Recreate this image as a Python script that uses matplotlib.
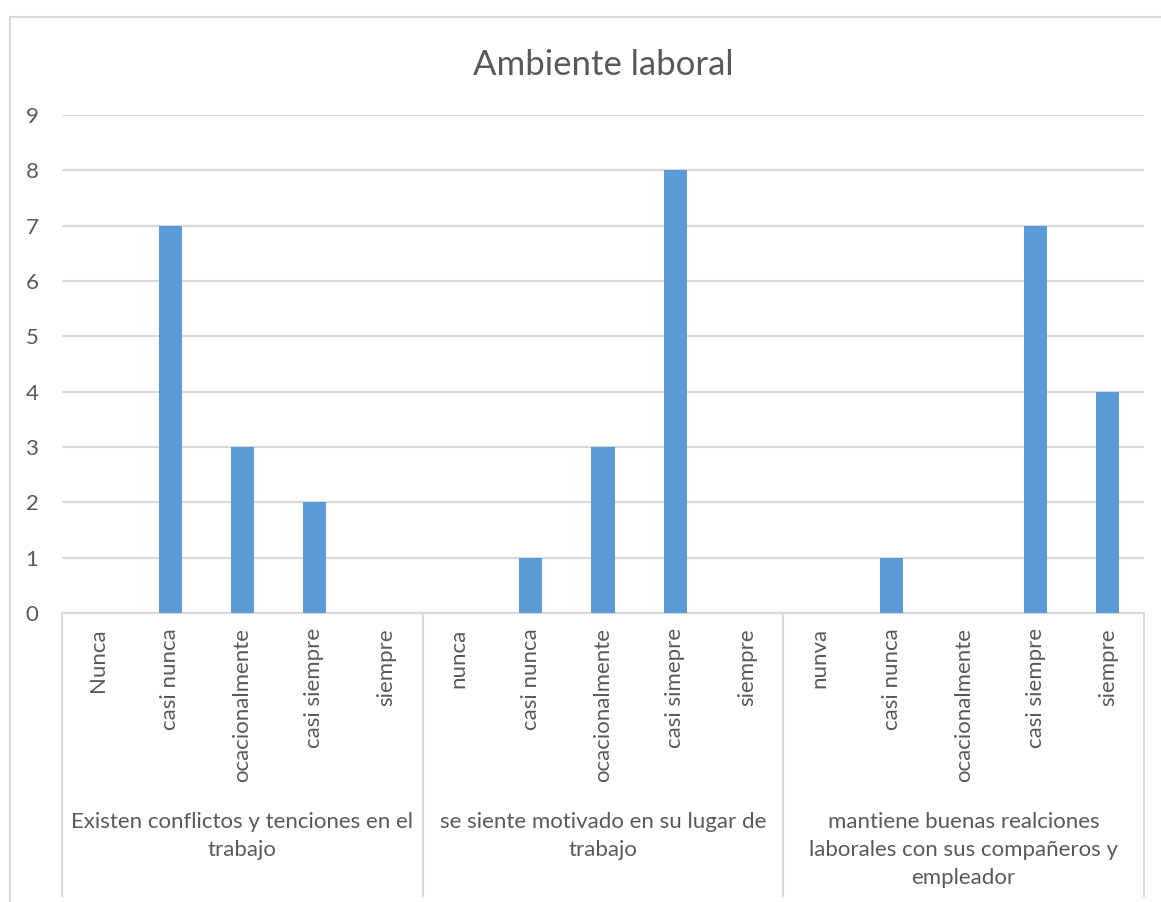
import matplotlib
matplotlib.use("Agg")
import matplotlib.pyplot as plt
import matplotlib.transforms as mtransforms
import numpy as np

plt.rcParams['font.family'] = ['Lato', 'DejaVu Sans']

title = "Ambiente laboral"
groups = [
    "Existen conflictos y tenciones en el\ntrabajo",
    "se siente motivado en su lugar de\ntrabajo",
    "mantiene buenas realciones\nlaborales con sus compañeros y\nempleador",
]
labels_g1 = ["Nunca", "casi nunca", "ocacionalmente", "casi siempre", "siempre"]
labels_g2 = ["nunca", "casi nunca", "ocacionalmente", "casi simepre", "siempre"]
labels_g3 = ["nunva", "casi nunca", "ocacionalmente", "casi siempre", "siempre"]
values_g1 = [0, 7, 3, 2, 0]
values_g2 = [0, 1, 3, 8, 0]
values_g3 = [0, 1, 0, 7, 4]

labels = labels_g1 + labels_g2 + labels_g3
values = values_g1 + values_g2 + values_g3
sizes = [len(labels_g1), len(labels_g2), len(labels_g3)]

text_col = '#595959'
grid_col = '#d9d9d9'
bar_col = '#5b9bd5'

fig = plt.figure(figsize=(11.61, 9.02), dpi=100)
ax = fig.add_axes([62 / 1161, 1 - 613 / 902, (1144 - 62) / 1161, (613 - 115) / 902])

x = np.arange(len(values))
ax.bar(x, values, width=0.32, color=bar_col, zorder=3)
ax.set_xlim(-0.5, len(values) - 0.5)
ax.set_ylim(0, 9)
ax.set_yticks(range(10))
ax.yaxis.grid(True, color=grid_col, linewidth=1.5, zorder=0)
ax.tick_params(axis='y', length=0, pad=17, labelsize=16, labelcolor=text_col)
ax.set_xticks(x)
ax.set_xticklabels(labels, rotation=90, fontsize=16, color=text_col)
ax.tick_params(axis='x', length=0, pad=11)
for s in ['left', 'right', 'top']:
    ax.spines[s].set_visible(False)
ax.spines['bottom'].set_color(grid_col)
ax.spines['bottom'].set_linewidth(1.5)

ax.set_title(title, fontsize=25, color=text_col, pad=29)

# group separators and labels under the axis
trans = mtransforms.blended_transform_factory(ax.transData, fig.transFigure)
edges = np.concatenate([[0], np.cumsum(sizes)]) - 0.5
y_top = 1 - 613 / 902
y_bot = 1 - 896 / 902
for e in edges:
    ax.plot([e, e], [y_top, y_bot], transform=trans, color=grid_col, lw=1.5, clip_on=False)
for i, g in enumerate(groups):
    cx = (edges[i] + edges[i + 1]) / 2
    ax.text(cx, 1 - 812 / 902, g, transform=trans, ha='center', va='top',
            fontsize=16, color=text_col, linespacing=1.5)

# chart border
fig.add_artist(plt.Line2D([10 / 1161, 10 / 1161], [0, 1 - 17 / 902], color=grid_col, lw=1.5))
fig.add_artist(plt.Line2D([10 / 1161, 1], [1 - 17 / 902, 1 - 17 / 902], color=grid_col, lw=1.5))

fig.savefig('out.png', dpi=100)
